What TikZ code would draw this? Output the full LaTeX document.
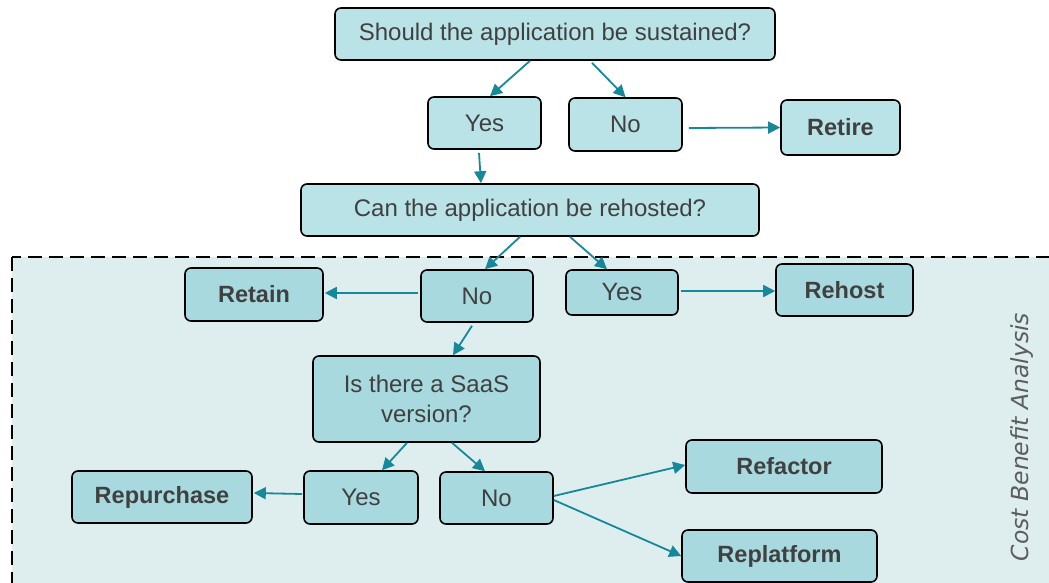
\documentclass[tikz,border=0pt]{standalone}
\usepackage{fontspec}
\setmainfont{Liberation Sans}
\newfontfamily\cbafont{DejaVu Sans}
\usetikzlibrary{arrows.meta}
\definecolor{txt}{HTML}{404040}
\definecolor{topfill}{HTML}{B9E3E7}
\definecolor{infill}{HTML}{A7D9DE}
\definecolor{regfill}{HTML}{DEEEEF}
\definecolor{teal}{HTML}{17879A}
\tikzset{
  box/.style={draw=black, line width=1.6pt, rounded corners=6pt, inner sep=0pt,
    text=txt, font=\fontsize{24}{30}\selectfont, align=center},
  topbox/.style={box, fill=topfill},
  inbox/.style={box, fill=infill},
  outcome/.style={font=\fontsize{23.5}{29}\selectfont\bfseries},
  arr/.style={draw=teal, line width=1.8pt, -{Triangle[length=12pt,width=12pt]}},
}
\begin{document}
\begin{tikzpicture}[x=1pt,y=-1pt]
\useasboundingbox (0,0) rectangle (1049,583);
\begin{scope}
\clip (0,0) rectangle (1049,583);
\draw[fill=regfill, line width=2pt, dash pattern=on 14pt off 7pt] (12,257) rectangle (1070,600);
\end{scope}
% top part
\node[topbox, minimum width=440, minimum height=52] (q1) at (555,34) {Should the application be sustained?};
\node[topbox, minimum width=113, minimum height=52] (yes1) at (484.5,123) {Yes};
\node[topbox, minimum width=113, minimum height=53] (no1) at (625.5,124.5) {No};
\node[topbox, outcome, minimum width=119, minimum height=55] (retire) at (840.5,127.5) {Retire};
\node[topbox, minimum width=458, minimum height=52] (q2) at (530,210) {Can the application be rehosted?};
% inside region
\node[inbox, outcome, minimum width=138, minimum height=53] (retain) at (254,294.5) {Retain};
\node[inbox, minimum width=112, minimum height=52] (no2) at (477,296) {No};
\node[inbox, minimum width=112, minimum height=45, font=\fontsize{25}{30}\selectfont] (yes2) at (622,292.5) {Yes};
\node[inbox, outcome, minimum width=137, minimum height=52] (rehost) at (844.5,290) {Rehost};
\node[inbox, minimum width=227, minimum height=86] (q3) at (426.5,399) {Is there a SaaS\\version?};
\node[inbox, outcome, minimum width=180, minimum height=52] (repurchase) at (162,497) {Repurchase};
\node[inbox, minimum width=114, minimum height=53] (yes3) at (361,497.5) {Yes};
\node[inbox, minimum width=113, minimum height=52] (no3) at (496.5,498) {No};
\node[inbox, outcome, minimum width=196, minimum height=53] (refactor) at (784,466.5) {Refactor};
\node[inbox, outcome, minimum width=195, minimum height=52] (replatform) at (779.5,556) {Replatform};
\node[rotate=90, text=txt!85!white, font=\cbafont\itshape\fontsize{23.5}{28}\selectfont] (cba) at (1022,437) {Cost Benefit Analysis};
% arrows
\draw[arr] ([xshift=-25pt]q1.south) -- ([xshift=5.5pt]yes1.north);
\draw[arr] ([xshift=37pt,yshift=-2pt]q1.south) -- (no1.north);
\draw[arr] ([xshift=6pt,yshift=-3.5pt]no1.east) -- (retire.west);
\draw[arr] ([xshift=-5.5pt,yshift=-3pt]yes1.south) -- ([xshift=-49pt]q2.north);
\draw[arr] ([xshift=-10pt]q2.south) -- ([xshift=8pt]no2.north);
\draw[arr] ([xshift=40pt]q2.south) -- ([xshift=-15pt]yes2.north);
\draw[arr] ([xshift=-2pt,yshift=3pt]no2.west) -- ([xshift=1pt,yshift=1.5pt]retain.east);
\draw[arr] ([xshift=2pt,yshift=1.5pt]yes2.east) -- ([yshift=-1pt]rehost.west);
\draw[arr] ([xshift=-5pt,yshift=-3pt]no2.south) -- ([xshift=26.5pt]q3.north);
\draw[arr] ([xshift=-19.5pt]q3.south) -- ([xshift=21pt]yes3.north);
\draw[arr] ([xshift=25.5pt]q3.south) -- ([xshift=-11.5pt]no3.north);
\draw[arr] ([xshift=-1pt,yshift=3.5pt]yes3.west) -- ([xshift=1pt,yshift=4pt]repurchase.east);
\draw[arr] ([yshift=2pt]no3.east) -- ([yshift=1.5pt]refactor.west);
\draw[arr] ([yshift=-2pt]no3.east) -- (replatform.west);
\end{tikzpicture}
\end{document}
